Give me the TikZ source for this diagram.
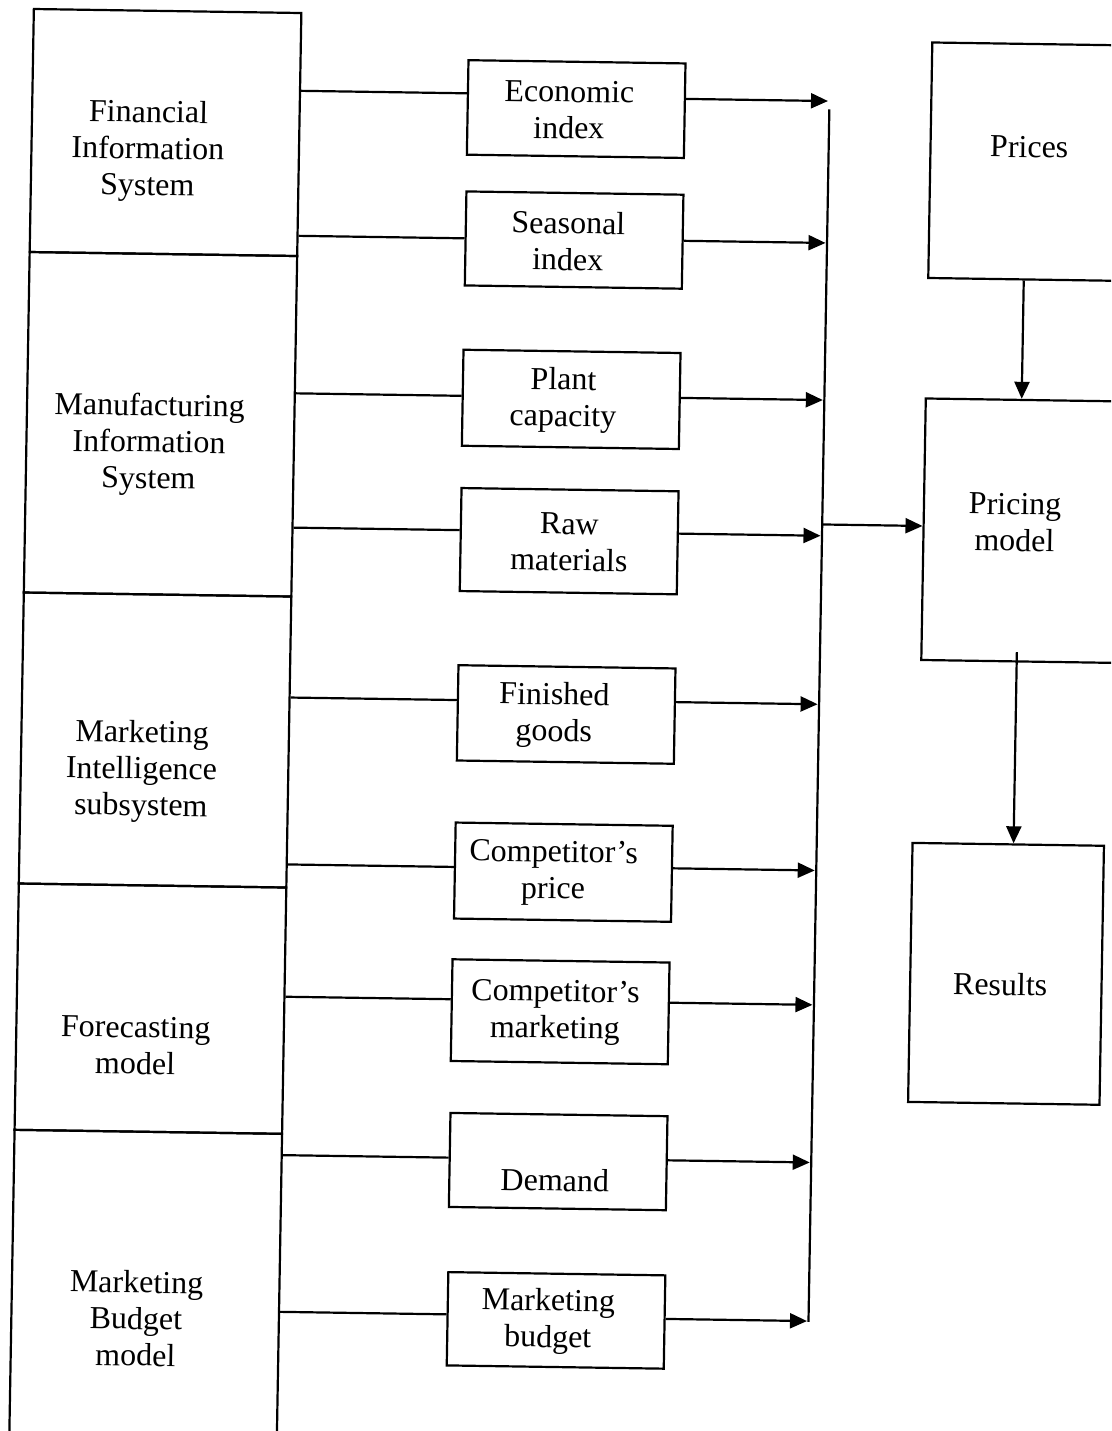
\documentclass[tikz,border=0pt]{standalone}
\usepackage{fontspec}
\setmainfont{Liberation Serif}
\usetikzlibrary{arrows.meta}
\begin{document}
\begin{tikzpicture}[x=1pt,y=-1pt,
  lw/.style={line width=2.2pt},
  cell/.style={draw,lw,rectangle,inner sep=0pt,minimum width=267.5pt},
  lbl/.style={align=center,inner sep=0pt,font=\fontsize{32}{36.5}\selectfont},
  mbox/.style={draw,lw,rectangle,inner sep=0pt,minimum width=217pt},
  bigbox/.style={draw,lw,rectangle,inner sep=0pt},
  conn/.style={lw},
  arr/.style={lw,-{Triangle[length=17pt,width=15pt]}},
  busarr/.style={arr,shorten >=1.5pt},
]
\fill[white] (0,0) rectangle (1111,1431);
\clip (0,0) rectangle (1111,1431);
\begin{scope}[transform canvas={cm={1,-0.015,0.0172,1,(0,0)}}]
% left column
\node[cell,minimum height=243pt]   (finC) at (167.75,130) {};
\node[cell,minimum height=340.5pt] (manC) at (167.75,421.75) {};
\node[cell,minimum height=291pt]   (mktC) at (167.75,737.5) {};
\node[cell,minimum height=246.3pt] (fcC)  at (167.75,1006.15) {};
\node[cell,minimum height=350.7pt] (mbC)  at (167.75,1304.65) {};
\node[lbl] (finT) at (150.5,149) {Financial\\Information\\System};
\node[lbl] (manT) at (156.6,442) {Manufacturing\\Information\\System};
\node[lbl] (mktT) at (154.7,769) {Marketing\\Intelligence\\subsystem};
\node[lbl] (fcT)  at (153.4,1043) {Forecasting\\model};
\node[lbl] (mbT)  at (158.6,1316) {Marketing\\Budget\\model};
% middle boxes
\node[mbox,minimum height=94.5pt]  (econ)   at (577.9,100.4) {};
\node[mbox,minimum height=94pt]    (seas)   at (578.1,231.4) {};
\node[mbox,minimum height=96pt]    (plant)  at (577.9,390.7) {};
\node[mbox,minimum height=103pt]   (raw)    at (578.3,532.5) {};
\node[mbox,minimum height=95.3pt]  (fin)    at (578.3,705.8) {};
\node[mbox,minimum height=96pt]    (cprice) at (578.2,863.5) {};
\node[mbox,minimum height=101.7pt] (cmkt)   at (577.4,1003.1) {};
\node[mbox,minimum height=94pt]    (dem)    at (578,1152.9) {};
\node[mbox,minimum height=93.3pt]  (mbud)   at (578.6,1311.7) {};
\node[lbl] (econT)   at ([xshift=-7pt,yshift=-1pt]econ.center) {Economic\\index};
\node[lbl] (seasT)   at ([xshift=-6pt,yshift=-1pt]seas.center) {Seasonal\\index};
\node[lbl] (plantT)  at ([xshift=-8pt,yshift=-1pt]plant.center) {Plant\\capacity};
\node[lbl] (rawT)    at ([yshift=-1pt]raw.center) {Raw\\materials};
\node[lbl] (finT2)   at ([xshift=-12pt,yshift=-1pt]fin.center) {Finished\\goods};
\node[lbl] (cpriceT) at ([xshift=-10pt,yshift=-1pt]cprice.center) {Competitor’s\\price};
\node[lbl] (cmktT)   at ([xshift=-5pt,yshift=-1pt]cmkt.center) {Competitor’s\\marketing};
\node[lbl] (demT)    at ([xshift=-3pt,yshift=-18.5pt]dem.center) {Demand};
\node[lbl] (mbudT)   at ([xshift=-8pt,yshift=-1pt]mbud.center) {Marketing\\budget};
% right boxes
\node[bigbox,minimum width=227.2pt,minimum height=235.5pt] (prices)  at (1046.4,146.25) {};
\node[lbl] (pricesT) at (1031.5,131.6) {Prices};
\node[bigbox,minimum width=227.6pt,minimum height=261.5pt] (pricing) at (1046.2,515.25) {};
\node[lbl] (pricingT) at (1023.5,507) {Pricing\\model};
\node[bigbox,minimum width=191.4pt,minimum height=259pt] (results) at (1022.5,958.5) {};
\node[lbl] (resultsT) at (1016.9,969) {Results};
% bus
\coordinate (bustop) at (831,97);
\coordinate (busbot) at (831,1309.5);
\draw[conn] (bustop) -- (busbot);
% rows
\draw[conn] (finC.east |- 0,86.3) -- (econ.west |- 0,86.3);
\draw[busarr] (econ.east |- 0,88.6) -- (bustop |- 0,88.6);
\draw[conn] (finC.east |- 0,231.3) -- (seas.west |- 0,231.3);
\draw[busarr] (seas.east |- 0,230.5) -- (bustop |- 0,230.5);
\draw[conn] (manC.east |- 0,388.8) -- (plant.west |- 0,388.8);
\draw[busarr] (plant.east |- 0,387.6) -- (bustop |- 0,387.6);
\draw[conn] (manC.east |- 0,523.1) -- (raw.west |- 0,523.1);
\draw[busarr] (raw.east |- 0,523.3) -- (bustop |- 0,523.3);
\draw[conn] (mktC.east |- 0,693) -- (fin.west |- 0,693);
\draw[busarr] (fin.east |- 0,691.8) -- (bustop |- 0,691.8);
\draw[conn] (mktC.east |- 0,859.9) -- (cprice.west |- 0,859.9);
\draw[busarr] (cprice.east |- 0,858) -- (bustop |- 0,858);
\draw[conn] (fcC.east |- 0,992.2) -- (cmkt.west |- 0,992.2);
\draw[busarr] (cmkt.east |- 0,992.4) -- (bustop |- 0,992.4);
\draw[conn] (mbC.east |- 0,1150.6) -- (dem.west |- 0,1150.6);
\draw[busarr] (dem.east |- 0,1150) -- (bustop |- 0,1150);
\draw[conn] (mbC.east |- 0,1307.3) -- (mbud.west |- 0,1307.3);
\draw[busarr] (mbud.east |- 0,1308.6) -- (busbot |- 0,1308.6);
% right side arrows
\draw[arr] (bustop |- 0,512) -- (pricing.west |- 0,512);
\draw[arr] (prices.south -| 1028.3,0) -- (pricing.north -| 1028.3,0);
\coordinate (rstart) at (1027.8,636.7);
\draw[arr] (rstart) -- (results.north -| rstart);
\end{scope}
\end{tikzpicture}
\end{document}
